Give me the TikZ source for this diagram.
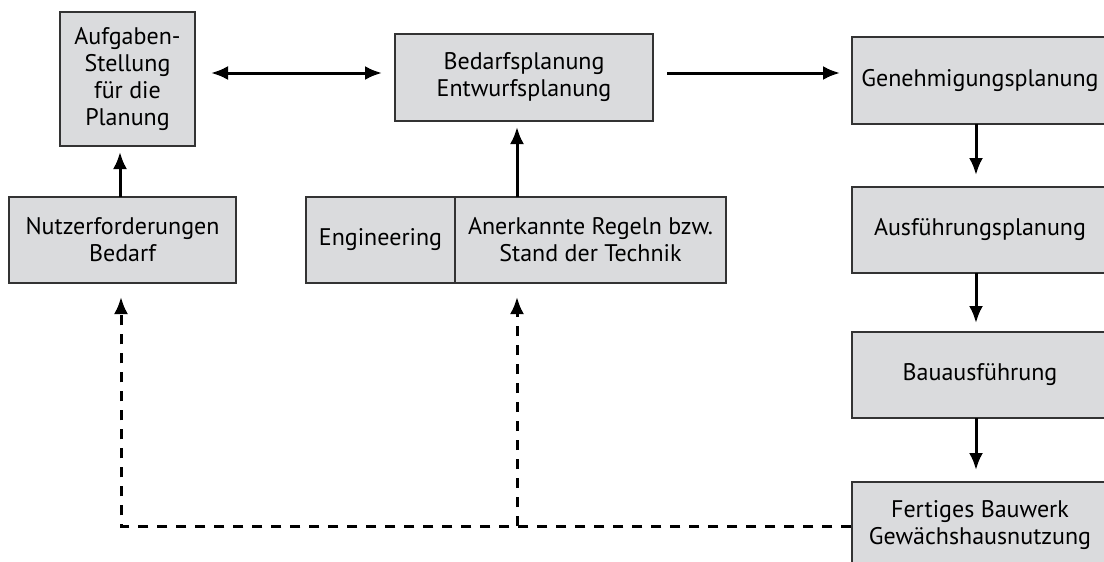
\documentclass[tikz,border=0pt]{standalone}
\usepackage{fontspec}
\setmainfont{PT Sans}
\usepackage{tikz}
\usetikzlibrary{arrows.meta,positioning}
\definecolor{BoxGrey}{HTML}{DADBDD}
\definecolor{EdgeGrey}{HTML}{333333}

\begin{document}
\begin{tikzpicture}[
  x=0.5pt, y=-0.5pt,
  phase/.style={draw=EdgeGrey, line width=0.6pt, fill=BoxGrey, align=center,
    inner sep=0pt, font=\fontsize{12}{13.5}\selectfont},
  flow/.style={-{Latex[length=8.5pt, width=7pt]}, line width=1.5pt},
  feedback/.style={flow, dash pattern=on 5pt off 4.5pt}
]
\useasboundingbox (0,0) rectangle (1104,562);
\clip (0,0) rectangle (1104,562);
% linke Spalte
\node[phase, minimum width=67.5pt, minimum height=67pt] (aufgabe) at (127.5,79) {Aufgaben-\\Stellung\\für die\\Planung};
\node[phase, minimum width=113.5pt, minimum height=43pt] (nutzer) at (122.5,240) {Nutzerforderungen\\Bedarf};
% mittlere Spalte
\node[phase, minimum width=129pt, minimum height=43.5pt] (bedarf) at (524,77.5) {Bedarfsplanung\\Entwurfsplanung};
\node[phase, minimum width=74.5pt, minimum height=43pt] (engineering) at (380.5,240) {Engineering};
\node[phase, minimum width=135.5pt, minimum height=43pt] (regeln) at (590.5,240) {Anerkannte Regeln bzw.\\Stand der Technik};
% rechte Spalte
\node[phase, minimum width=128pt, minimum height=43.5pt] (genehmigung) at (980,80.5) {Genehmigungsplanung};
\node[phase, minimum width=128pt, minimum height=43pt] (ausfuehrung) at (980,230) {Ausführungsplanung};
\node[phase, minimum width=128pt, minimum height=43pt] (bau) at (980,375) {Bauausführung};
\node[phase, minimum width=128pt, minimum height=43pt] (bauwerk) at (980,525) {Fertiges Bauwerk\\Gewächshausnutzung};
% Pfeile
\draw[flow] (120,197) -- (120,152);
\draw[flow, {Latex[length=8.5pt, width=7pt]}-{Latex[length=8.5pt, width=7pt]}] (211,73) -- (382,73);
\draw[flow] (667,73) -- (840,73);
\draw[flow] (517,197) -- (517,127);
\draw[flow] (976,124) -- (976,175);
\draw[flow] (976,273) -- (976,323);
\draw[flow] (976,418) -- (976,470);
% Rückkopplung
\coordinate (knickL) at (121,526);
\coordinate (knickM) at (517,526);
\draw[feedback] (bauwerk.west |- knickL) -- (knickL) -- (121,297);
\draw[feedback] (knickM) -- (517,297);
\end{tikzpicture}
\end{document}
